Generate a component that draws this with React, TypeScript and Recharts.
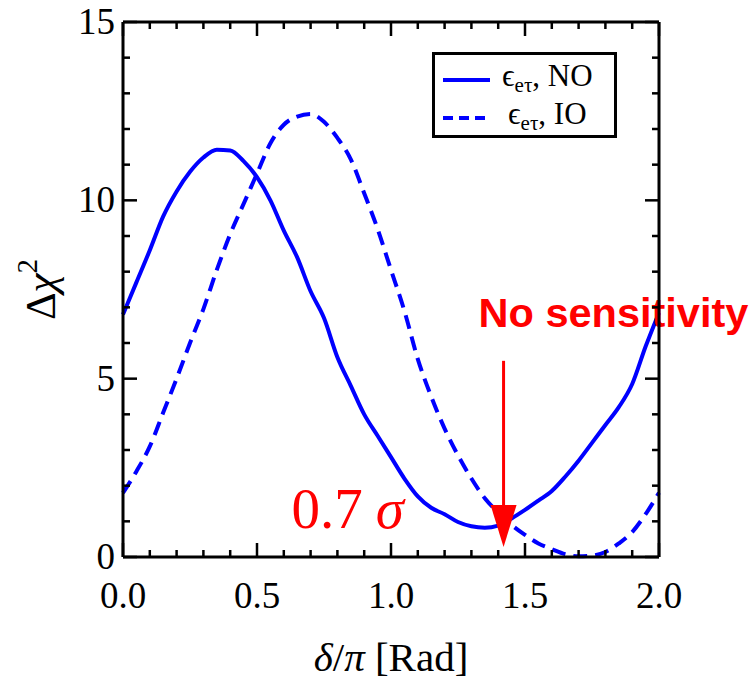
import { Legend, Line, LineChart, ReferenceLine, XAxis, YAxis } from "recharts";

// δ/π sampled every 0.05
const delta = [
  0, 0.05, 0.1, 0.15, 0.2, 0.25, 0.3, 0.35, 0.4, 0.45, 0.5, 0.55, 0.6, 0.65, 0.7, 0.75, 0.8, 0.85, 0.9, 0.95, 1.0,
  1.05, 1.1, 1.15, 1.2, 1.25, 1.3, 1.35, 1.4, 1.45, 1.5, 1.55, 1.6, 1.65, 1.7, 1.75, 1.8, 1.85, 1.9, 1.95, 2.0,
];
// Δχ² for ε_eτ, normal ordering (solid)
const chiNO = [
  6.8, 7.7, 8.6, 9.55, 10.25, 10.8, 11.2, 11.42, 11.4, 11.1, 10.65, 10.0, 9.15, 8.4, 7.45, 6.7, 5.6, 4.8, 4.0, 3.4,
  2.8, 2.2, 1.7, 1.38, 1.2, 0.98, 0.86, 0.82, 0.88, 1.08, 1.32, 1.58, 1.85, 2.25, 2.7, 3.2, 3.7, 4.2, 4.85, 5.9, 6.85,
];
// Δχ² for ε_eτ, inverted ordering (dashed)
const chiIO = [
  1.8, 2.4, 3.1, 4.05, 5.0, 6.0, 6.95, 8.05, 9.05, 9.9, 10.75, 11.6, 12.12, 12.35, 12.42, 12.2, 11.75, 11.15, 10.2,
  9.2, 8.05, 6.9, 5.55, 4.5, 3.6, 2.85, 2.2, 1.65, 1.25, 0.9, 0.62, 0.38, 0.22, 0.08, 0.02, 0.04, 0.14, 0.38, 0.7,
  1.2, 1.8,
];

const xTicks = [
  0, 0.1, 0.2, 0.3, 0.4, 0.5, 0.6, 0.7, 0.8, 0.9, 1.0, 1.1, 1.2, 1.3, 1.4, 1.5, 1.6, 1.7, 1.8, 1.9, 2.0,
];
const xMajor = [0, 0.5, 1.0, 1.5, 2.0];
const yTicks = [0, 1, 2, 3, 4, 5, 6, 7, 8, 9, 10, 11, 12, 13, 14, 15];
const yMajor = [0, 5, 10, 15];

// arrow annotation: x position and shaft range in Δχ²
const arrowX = 1.42;
const arrowTop = 5.5;
const arrowTip = 0.28;

const data = delta.map((x, i) => ({ x, no: chiNO[i], io: chiIO[i] }));

const SERIF = "'Liberation Serif', 'Times New Roman', serif";
const BLUE = "#0000ff";
const RED = "#ff0000";

const isMajor = (v: number, majors: number[]) => majors.some((m) => Math.abs(m - v) < 1e-6);

function BottomTick({ x, y, payload }: any) {
  const major = isMajor(payload.value, xMajor);
  return (
    <g>
      <line x1={x} y1={y} x2={x} y2={y - (major ? 14 : 7)} stroke="#000" strokeWidth={2.5} />
      {major && (
        <text x={x} y={y + 51} textAnchor="middle" fontFamily={SERIF} fontSize={37} fill="#000">
          {payload.value.toFixed(1)}
        </text>
      )}
    </g>
  );
}

function TopTick({ x, y, payload }: any) {
  const major = isMajor(payload.value, xMajor);
  return <line x1={x} y1={y} x2={x} y2={y + (major ? 14 : 7)} stroke="#000" strokeWidth={2.5} />;
}

function LeftTick({ x, y, payload }: any) {
  const major = isMajor(payload.value, yMajor);
  return (
    <g>
      <line x1={x} y1={y} x2={x + (major ? 14 : 7)} y2={y} stroke="#000" strokeWidth={2.5} />
      {major && (
        <text x={x - 8} y={y + 12} textAnchor="end" fontFamily={SERIF} fontSize={37} fill="#000">
          {payload.value}
        </text>
      )}
    </g>
  );
}

function RightTick({ x, y, payload }: any) {
  const major = isMajor(payload.value, yMajor);
  return <line x1={x} y1={y} x2={x - (major ? 14 : 7)} y2={y} stroke="#000" strokeWidth={2.5} />;
}

function XTitle({ viewBox }: any) {
  const cx = viewBox.x + viewBox.width / 2;
  return (
    <text x={cx} y={671} textAnchor="middle" fontFamily={SERIF} fontSize={41} fill="#000">
      <tspan fontStyle="italic">δ</tspan>
      <tspan>/</tspan>
      <tspan fontStyle="italic">π</tspan>
      <tspan> [Rad]</tspan>
    </text>
  );
}

function YTitle({ viewBox }: any) {
  const cy = viewBox.y + viewBox.height / 2;
  const bx = 55;
  return (
    <text
      x={bx}
      y={cy}
      transform={`rotate(-90, ${bx}, ${cy})`}
      textAnchor="middle"
      fontFamily={SERIF}
      fontSize={43}
      fill="#000"
    >
      <tspan>Δ</tspan>
      <tspan fontStyle="italic">χ</tspan>
      <tspan fontSize={29} dy={-18}>
        2
      </tspan>
    </text>
  );
}

function Arrow(props: any) {
  const { x1, y1, y2 } = props;
  const head = 42;
  return (
    <g>
      <line x1={x1} y1={y1} x2={x1} y2={y2 - head + 2} stroke={RED} strokeWidth={3} />
      <polygon points={`${x1 - 13},${y2 - head} ${x1 + 13},${y2 - head} ${x1},${y2}`} fill={RED} />
      <text
        x={x1 - 25}
        y={y1 - 34}
        fontFamily="'Liberation Sans', Arial, sans-serif"
        fontWeight="bold"
        fontSize={41.5}
        fill={RED}
      >
        No sensitivity
      </text>
      <text x={x1 - 212} y={528} fontFamily={SERIF} fontSize={57} fill={RED}>
        <tspan>0.7</tspan>
        <tspan dx={13} fontStyle="italic">
          σ
        </tspan>
      </text>
    </g>
  );
}

function LegendBox() {
  const sub = (
    <>
      <tspan>ϵ</tspan>
      <tspan fontSize={21} dy={6}>
        eτ
      </tspan>
    </>
  );
  return (
    <div style={{ width: 185, height: 86, border: "3.5px solid #000", boxSizing: "border-box", background: "#fff" }}>
      <svg width={178} height={79} style={{ display: "block" }}>
        <line x1={8} y1={25} x2={55} y2={25} stroke={BLUE} strokeWidth={4} />
        <text x={67} y={31} fontFamily={SERIF} fontSize={31} fill="#000">
          {sub}
          <tspan dy={-6}>, NO</tspan>
        </text>
        <line x1={8} y1={63} x2={52} y2={63} stroke={BLUE} strokeWidth={4} strokeDasharray="10 6" />
        <text x={73} y={69} fontFamily={SERIF} fontSize={31} fill="#000">
          {sub}
          <tspan dy={-6}>, IO</tspan>
        </text>
      </svg>
    </div>
  );
}

export default function App() {
  return (
    <div style={{ position: "absolute", left: 0, top: 0, width: 755, height: 683, background: "#fff" }}>
      <LineChart width={755} height={683} data={data} margin={{ top: 21, right: 95, bottom: 0, left: 0 }}>
        <XAxis
          dataKey="x"
          type="number"
          domain={[0, 2]}
          ticks={xTicks}
          interval={0}
          height={126}
          tickSize={0}
          tickMargin={0}
          tickLine={false}
          axisLine={{ stroke: "#000", strokeWidth: 3 }}
          tick={<BottomTick />}
          label={{ content: <XTitle /> }}
        />
        <XAxis
          xAxisId="top"
          dataKey="x"
          orientation="top"
          type="number"
          domain={[0, 2]}
          ticks={xTicks}
          interval={0}
          height={1}
          tickSize={0}
          tickMargin={0}
          tickLine={false}
          axisLine={{ stroke: "#000", strokeWidth: 3 }}
          tick={<TopTick />}
        />
        <YAxis
          type="number"
          domain={[0, 15]}
          ticks={yTicks}
          interval={0}
          width={123}
          tickSize={0}
          tickMargin={0}
          tickLine={false}
          axisLine={{ stroke: "#000", strokeWidth: 3 }}
          tick={<LeftTick />}
          label={{ content: <YTitle /> }}
        />
        <YAxis
          yAxisId="right"
          orientation="right"
          type="number"
          domain={[0, 15]}
          ticks={yTicks}
          interval={0}
          width={1}
          tickSize={0}
          tickMargin={0}
          tickLine={false}
          axisLine={{ stroke: "#000", strokeWidth: 3 }}
          tick={<RightTick />}
        />
        <Line
          dataKey="no"
          yAxisId="right"
          type="monotone"
          stroke={BLUE}
          strokeWidth={4}
          dot={false}
          isAnimationActive={false}
        />
        <Line
          dataKey="io"
          xAxisId="top"
          type="monotone"
          stroke={BLUE}
          strokeWidth={4}
          strokeDasharray="14 8"
          dot={false}
          isAnimationActive={false}
        />
        <ReferenceLine
          segment={[
            { x: arrowX, y: arrowTop },
            { x: arrowX, y: arrowTip },
          ]}
          ifOverflow="visible"
          shape={<Arrow />}
        />
        <Legend
          layout="vertical"
          align="center"
          verticalAlign="middle"
          content={<LegendBox />}
          wrapperStyle={{ left: 432, top: 52, width: 185, height: 86 }}
        />
      </LineChart>
    </div>
  );
}
